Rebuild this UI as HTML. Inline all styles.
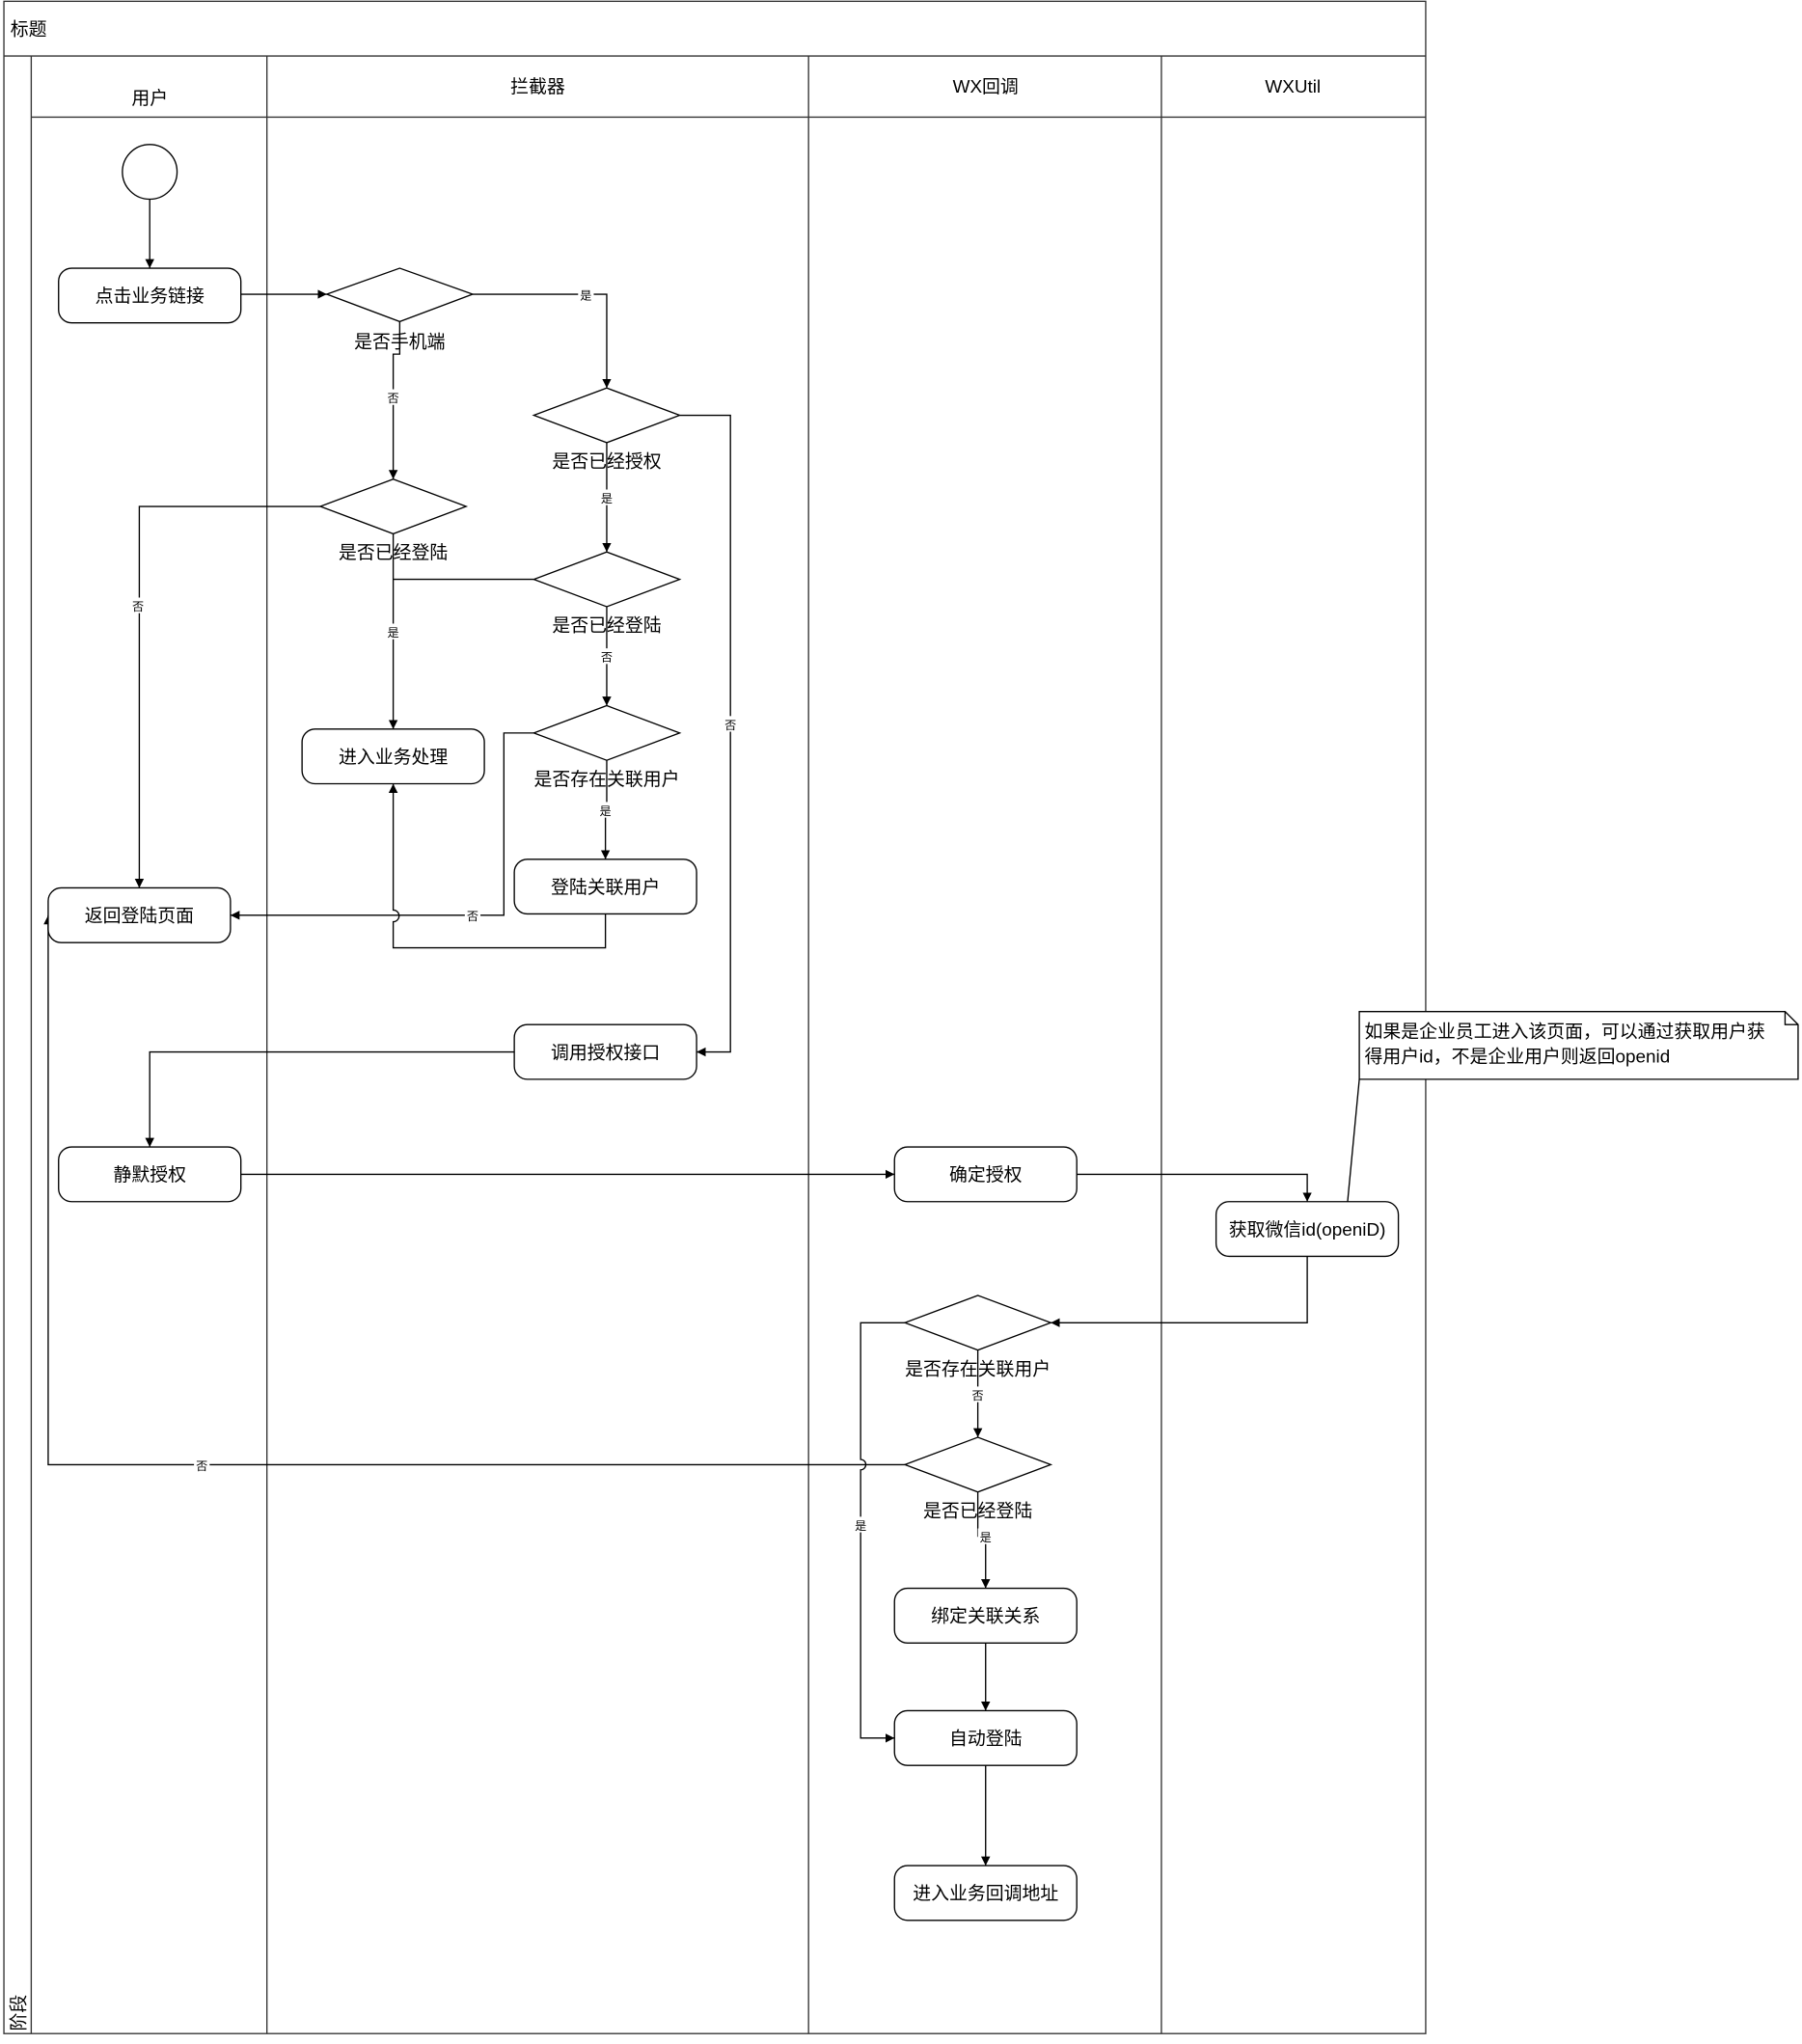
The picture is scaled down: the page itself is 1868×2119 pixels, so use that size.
<!DOCTYPE html>
<html><head><meta charset="utf-8"><style>html,body{margin:0;padding:0;background:#fff}svg{display:block}text{font-family:"Liberation Sans","Noto Sans CJK SC",sans-serif;fill:#000}</style></head><body>
<svg width="1868" height="2119" viewBox="0 0 1384 1570" preserveAspectRatio="none" xmlns="http://www.w3.org/2000/svg">
<defs><marker id="a" markerWidth="8" markerHeight="8" refX="7" refY="4" orient="auto" markerUnits="userSpaceOnUse"><path d="M0,0.5 L7,4 L0,7.5z" fill="#000"/></marker></defs>
<g fill="none" stroke="#333" stroke-width="1">
<rect x="3" y="1" width="1092" height="1561" fill="#fff"/>
<line x1="3" y1="43" x2="1095" y2="43"/>
<line x1="24" y1="43" x2="24" y2="1562"/>
<line x1="205" y1="43" x2="205" y2="1562"/>
<line x1="621" y1="43" x2="621" y2="1562"/>
<line x1="892" y1="43" x2="892" y2="1562"/>
<line x1="24" y1="90" x2="1095" y2="90"/>
</g>
<g font-size="14">
<text x="8" y="27">标题</text>
<text x="115" y="80" text-anchor="middle">用户</text>
<text x="413" y="71" text-anchor="middle">拦截器</text>
<text x="757" y="71" text-anchor="middle">WX回调</text>
<text x="993" y="71" text-anchor="middle">WXUtil</text>
<text transform="translate(19,1560) rotate(-90)">阶段</text>
</g>
<g fill="none" stroke="#000" stroke-width="1" marker-end="url(#a)">
<path d="M115,153V206"/>
<path d="M185,226H251"/>
<path d="M363,226H466V298"/>
<path d="M307,247V272H302V368"/>
<path d="M522,319H561V808H535"/>
<path d="M466,340V424"/>
<path d="M246,389H107V682"/>
<path d="M302,410V560"/>
<path d="M466,466V542"/>
<path d="M466,584V622H465V660"/>
<path d="M410,563H387V703H177"/>
<path d="M465,702V728H302V708A4,4 0 0 0 302,699V602"/>
<path d="M395,808H115V881"/>
<path d="M185,902H687"/>
<path d="M827,902H1004V923"/>
<path d="M1004,965V1016H807"/>
<path d="M751,1037V1104"/>
<path d="M695,1016H661V1121A4,4 0 0 1 661,1129V1335H687"/>
<path d="M695,1125H37V703"/>
<path d="M751,1146V1180H757V1220"/>
<path d="M757,1262V1314"/>
<path d="M757,1356V1433"/>
</g>
<line x1="302" y1="445" x2="410" y2="445" stroke="#000"/>
<line x1="1035" y1="923" x2="1044" y2="829" stroke="#000"/>
<g font-size="9" text-anchor="middle">
<rect x="444" y="220" width="12" height="12" fill="#fff"/><text x="450" y="230">是</text>
<rect x="296" y="299" width="12" height="12" fill="#fff"/><text x="302" y="309">否</text>
<rect x="555" y="550" width="12" height="12" fill="#fff"/><text x="561" y="560">否</text>
<rect x="460" y="376" width="12" height="12" fill="#fff"/><text x="466" y="386">是</text>
<rect x="100" y="459" width="12" height="12" fill="#fff"/><text x="106" y="469">否</text>
<rect x="296" y="479" width="12" height="12" fill="#fff"/><text x="302" y="489">是</text>
<rect x="460" y="498" width="12" height="12" fill="#fff"/><text x="466" y="508">否</text>
<rect x="459" y="616" width="12" height="12" fill="#fff"/><text x="465" y="626">是</text>
<rect x="357" y="697" width="12" height="12" fill="#fff"/><text x="363" y="707">否</text>
<rect x="745" y="1065" width="12" height="12" fill="#fff"/><text x="751" y="1075">否</text>
<rect x="655" y="1165" width="12" height="12" fill="#fff"/><text x="661" y="1175">是</text>
<rect x="149" y="1119" width="12" height="12" fill="#fff"/><text x="155" y="1129">否</text>
<rect x="751" y="1174" width="12" height="12" fill="#fff"/><text x="757" y="1184">是</text>
</g>
<g fill="#fff" stroke="#000" stroke-width="1">
<circle cx="115" cy="132" r="21"/>
<rect x="45" y="206" width="140" height="42" rx="10"/>
<rect x="232" y="560" width="140" height="42" rx="10"/>
<rect x="395" y="660" width="140" height="42" rx="10"/>
<rect x="37" y="682" width="140" height="42" rx="10"/>
<rect x="395" y="787" width="140" height="42" rx="10"/>
<rect x="45" y="881" width="140" height="42" rx="10"/>
<rect x="687" y="881" width="140" height="42" rx="10"/>
<rect x="934" y="923" width="140" height="42" rx="10"/>
<rect x="687" y="1220" width="140" height="42" rx="10"/>
<rect x="687" y="1314" width="140" height="42" rx="10"/>
<rect x="687" y="1433" width="140" height="42" rx="10"/>
<path d="M251,226L307,206L363,226L307,247z"/>
<path d="M410,319L466,298L522,319L466,340z"/>
<path d="M246,389L302,368L358,389L302,410z"/>
<path d="M410,445L466,424L522,445L466,466z"/>
<path d="M410,563L466,542L522,563L466,584z"/>
<path d="M695,1016L751,995L807,1016L751,1037z"/>
<path d="M695,1125L751,1104L807,1125L751,1146z"/>
<path d="M1044,777H1371L1381,787V829H1044z"/>
<path d="M1371,777V787H1381" fill="none"/>
</g>
<g font-size="14" text-anchor="middle">
<text x="115" y="232">点击业务链接</text>
<text x="302" y="586">进入业务处理</text>
<text x="465" y="686">登陆关联用户</text>
<text x="107" y="708">返回登陆页面</text>
<text x="465" y="813">调用授权接口</text>
<text x="115" y="907">静默授权</text>
<text x="757" y="907">确定授权</text>
<text x="1004" y="949">获取微信id(openiD)</text>
<text x="757" y="1246">绑定关联关系</text>
<text x="757" y="1340">自动登陆</text>
<text x="757" y="1459">进入业务回调地址</text>
<text x="307" y="267">是否手机端</text>
<text x="466" y="359">是否已经授权</text>
<text x="302" y="429">是否已经登陆</text>
<text x="466" y="485">是否已经登陆</text>
<text x="466" y="603">是否存在关联用户</text>
<text x="751" y="1056">是否存在关联用户</text>
<text x="751" y="1165">是否已经登陆</text>
</g>
<g font-size="14">
<text x="1048" y="797">如果是企业员工进入该页面，可以通过获取用户获</text>
<text x="1048" y="816">得用户id，不是企业用户则返回openid</text>
</g>
</svg>
</body></html>
